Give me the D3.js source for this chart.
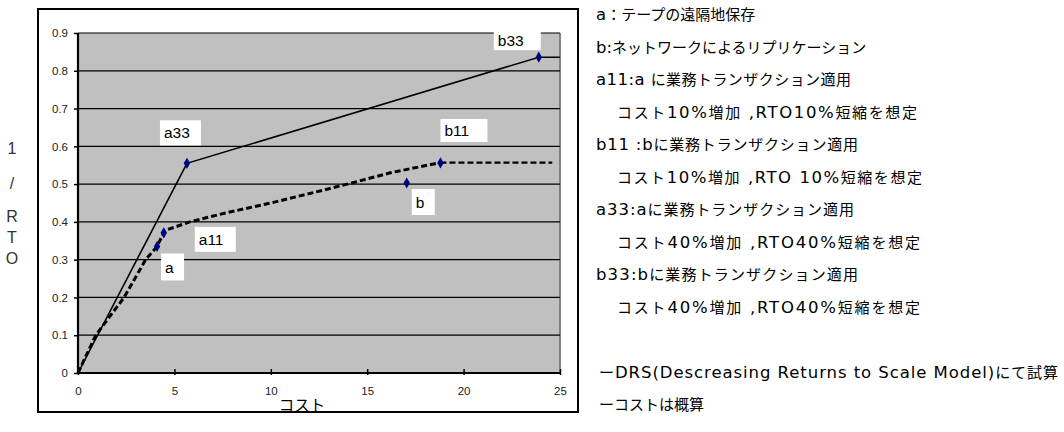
<!DOCTYPE html>
<html><head><meta charset="utf-8">
<script src="https://cdn.jsdelivr.net/npm/d3@7"></script>
<style>
html,body{margin:0;padding:0;background:#fff;}
svg{display:block;}
</style></head>
<body>
<svg id="c" width="1064" height="432"></svg>
<script>
// ---- data ----
const xTicks = [0, 5, 10, 15, 20, 25];
const xTickLabels = ["0", "5", "10", "15", "20", "25"];
const yTicks = [0, 0.1, 0.2, 0.3, 0.4, 0.5, 0.6, 0.7, 0.8, 0.9];
const yTickLabels = ["0", "0.1", "0.2", "0.3", "0.4", "0.5", "0.6", "0.7", "0.8", "0.9"];

// solid line (origin -> a33 -> b33)
const solidX = [0, 5.65, 23.9, 25];
const solidY = [0, 0.555, 0.836, 0.836];
// dashed line (DRS curve through a, a11 ... b11)
const dashX = [0, 0.92, 2.39, 3.51, 4.1, 4.5, 5.8, 7.6, 10, 12.8, 14.2, 16.2, 18.8];
const dashY = [0, 0.1, 0.2, 0.3, 0.335, 0.377, 0.4, 0.423, 0.45, 0.485, 0.503, 0.53, 0.557];
// dashed tail after b11
const tailX = [18.8, 24.6];
const tailY = [0.557, 0.557];

// labelled points
const pointNames = ["a", "a11", "a33", "b", "b11", "b33"];
const pointX = [4.1, 4.45, 5.65, 17.05, 18.8, 23.9];
const pointY = [0.335, 0.371, 0.555, 0.503, 0.556, 0.836];

const xTitle = "コスト";
const yTitle = ["1", "/", "R", "T", "O"];

const notes = [
  "a：テープの遠隔地保存",
  "b:ネットワークによるリプリケーション",
  "a11:a に業務トランザクション適用",
  "コスト10%増加 ,RTO10%短縮を想定",
  "b11 :bに業務トランザクション適用",
  "コスト10%増加 ,RTO 10%短縮を想定",
  "a33:aに業務トランザクション適用",
  "コスト40%増加 ,RTO40%短縮を想定",
  "b33:bに業務トランザクション適用",
  "コスト40%増加 ,RTO40%短縮を想定",
  "",
  "ーDRS(Descreasing Returns to Scale Model)にて試算",
  "ーコストは概算"
];

// ---- layout ----
const noteX =     [596, 596, 596, 617, 596, 617, 596, 617, 596, 617, 0, 599, 599];
const noteWidth = [0,   0,   255, 300, 262, 305, 258, 303, 262, 303, 0, 459, 0];

const svg = d3.select("#c");
const P = {l: 78, r: 560, t: 33, b: 373};
const x = d3.scaleLinear().domain([0, 25]).range([P.l, P.r]);
const y = d3.scaleLinear().domain([0, 0.9]).range([P.b, P.t]);
const latin = "'Liberation Sans', Arial, sans-serif";
const cjk = "'Noto Sans CJK JP', 'Liberation Sans', sans-serif";
const noteLatin = "'DejaVu Sans', sans-serif";

// plot background
svg.append("rect").attr("x", P.l).attr("y", P.t).attr("width", P.r - P.l).attr("height", P.b - P.t)
  .attr("fill", "#c0c0c0");
svg.append("line").attr("x1", P.r).attr("x2", P.r).attr("y1", P.t).attr("y2", P.b)
  .attr("stroke", "#808080").attr("stroke-width", 2);

// gridlines
svg.append("g").selectAll("line").data(yTicks.filter(d => d > 0)).join("line")
  .attr("x1", P.l).attr("x2", P.r).attr("y1", d => y(d)).attr("y2", d => y(d))
  .attr("stroke", "#000").attr("stroke-width", 1.2);

// axes
const gy = svg.append("g").attr("transform", `translate(${P.l},0)`)
  .call(d3.axisLeft(y).tickValues(yTicks).tickFormat((d, i) => yTickLabels[i]).tickSize(4).tickPadding(6));
const gx = svg.append("g").attr("transform", `translate(0,${P.b})`)
  .call(d3.axisBottom(x).tickValues(xTicks).tickFormat((d, i) => xTickLabels[i]).tickSize(-4).tickPadding(14));
[gy, gx].forEach(g => {
  g.select(".domain").remove();
  g.selectAll(".tick line").attr("stroke", "#000").attr("stroke-width", 1.5);
  g.selectAll(".tick text").attr("font-family", latin).attr("font-size", 11.5).attr("fill", "#222");
});
gx.selectAll(".tick line").attr("y2", -4).attr("y1", 2);
svg.append("line").attr("x1", P.l).attr("x2", P.l).attr("y1", P.t).attr("y2", P.b + 1)
  .attr("stroke", "#000").attr("stroke-width", 2.2);
svg.append("line").attr("x1", P.l - 1).attr("x2", P.r + 1).attr("y1", P.b).attr("y2", P.b)
  .attr("stroke", "#000").attr("stroke-width", 2.2);

// lines
const line = d3.line().x(d => x(d[0])).y(d => y(d[1]));
svg.append("path").datum(solidX.map((v, i) => [v, solidY[i]]))
  .attr("d", line).attr("fill", "none").attr("stroke", "#000").attr("stroke-width", 1.6);
svg.append("path").datum(dashX.map((v, i) => [v, dashY[i]]))
  .attr("d", line).attr("fill", "none").attr("stroke", "#000").attr("stroke-width", 3)
  .attr("stroke-dasharray", "6,3");
svg.append("path").datum(tailX.map((v, i) => [v, tailY[i]]))
  .attr("d", line).attr("fill", "none").attr("stroke", "#000").attr("stroke-width", 2.2)
  .attr("stroke-dasharray", "6,3");

// markers
svg.append("g").selectAll("path").data(pointNames.map((n, i) => [pointX[i], pointY[i]])).join("path")
  .attr("transform", d => `translate(${x(d[0])},${y(d[1])})`)
  .attr("d", d3.symbol(d3.symbolDiamond, 36)).attr("fill", "#000080");

// point label boxes (offsets relative to marker)
const lab = {
  a:   {dx: 4,   dy: 7,   w: 23, h: 27},
  a11: {dx: 31,  dy: -6,  w: 41, h: 25},
  a33: {dx: -27, dy: -43, w: 41, h: 25},
  b:   {dx: 5,   dy: 6,   w: 23, h: 26},
  b11: {dx: 0,   dy: -44, w: 47, h: 23},
  b33: {dx: -45, dy: -26, w: 47, h: 19}
};
pointNames.forEach((n, i) => {
  const o = lab[n];
  const bx = x(pointX[i]) + o.dx, by = y(pointY[i]) + o.dy;
  svg.append("rect").attr("x", bx).attr("y", by).attr("width", o.w).attr("height", o.h).attr("fill", "#fff");
  svg.append("text").attr("x", bx + 4).attr("y", by + o.h / 2).attr("dy", "0.36em")
    .attr("font-family", latin).attr("font-size", 15.5).attr("fill", "#000").text(n);
});

// axis titles
svg.append("text").attr("x", 302).attr("y", 406).attr("dy", "0.35em").attr("text-anchor", "middle")
  .attr("font-family", cjk).attr("font-size", 15.5).attr("fill", "#000").text(xTitle);
const yTitleY = [148, 183, 216, 237, 258];
yTitle.forEach((t, i) => {
  svg.append("text").attr("x", 12).attr("y", yTitleY[i]).attr("dy", "0.35em").attr("text-anchor", "middle")
    .attr("font-family", latin).attr("font-size", 16).attr("fill", "#333").text(t);
});

// outer chart box
svg.append("rect").attr("x", 38).attr("y", 9).attr("width", 540).attr("height", 403)
  .attr("fill", "none").attr("stroke", "#000").attr("stroke-width", 2);

// notes: ASCII runs in a wide latin face, Japanese runs in CJK face
notes.forEach((t, i) => {
  if (!t) return;
  const tx = svg.append("text").attr("x", noteX[i]).attr("y", 15 + i * 32.5).attr("dy", "0.35em")
    .attr("fill", "#000").attr("font-family", cjk).attr("font-size", 15)
    .attr("xml:space", "preserve").style("white-space", "pre");
  if (noteWidth[i]) tx.attr("textLength", noteWidth[i]).attr("lengthAdjust", "spacing");
  t.split(/([\x20-\x7E]+)/).filter(s => s.length).forEach(run => {
    const isLatin = /^[\x20-\x7E]+$/.test(run);
    tx.append("tspan")
      .attr("font-family", isLatin ? noteLatin : cjk)
      .attr("font-size", isLatin ? 16.5 : 15)
      .text(run);
  });
});
</script>
</body></html>
